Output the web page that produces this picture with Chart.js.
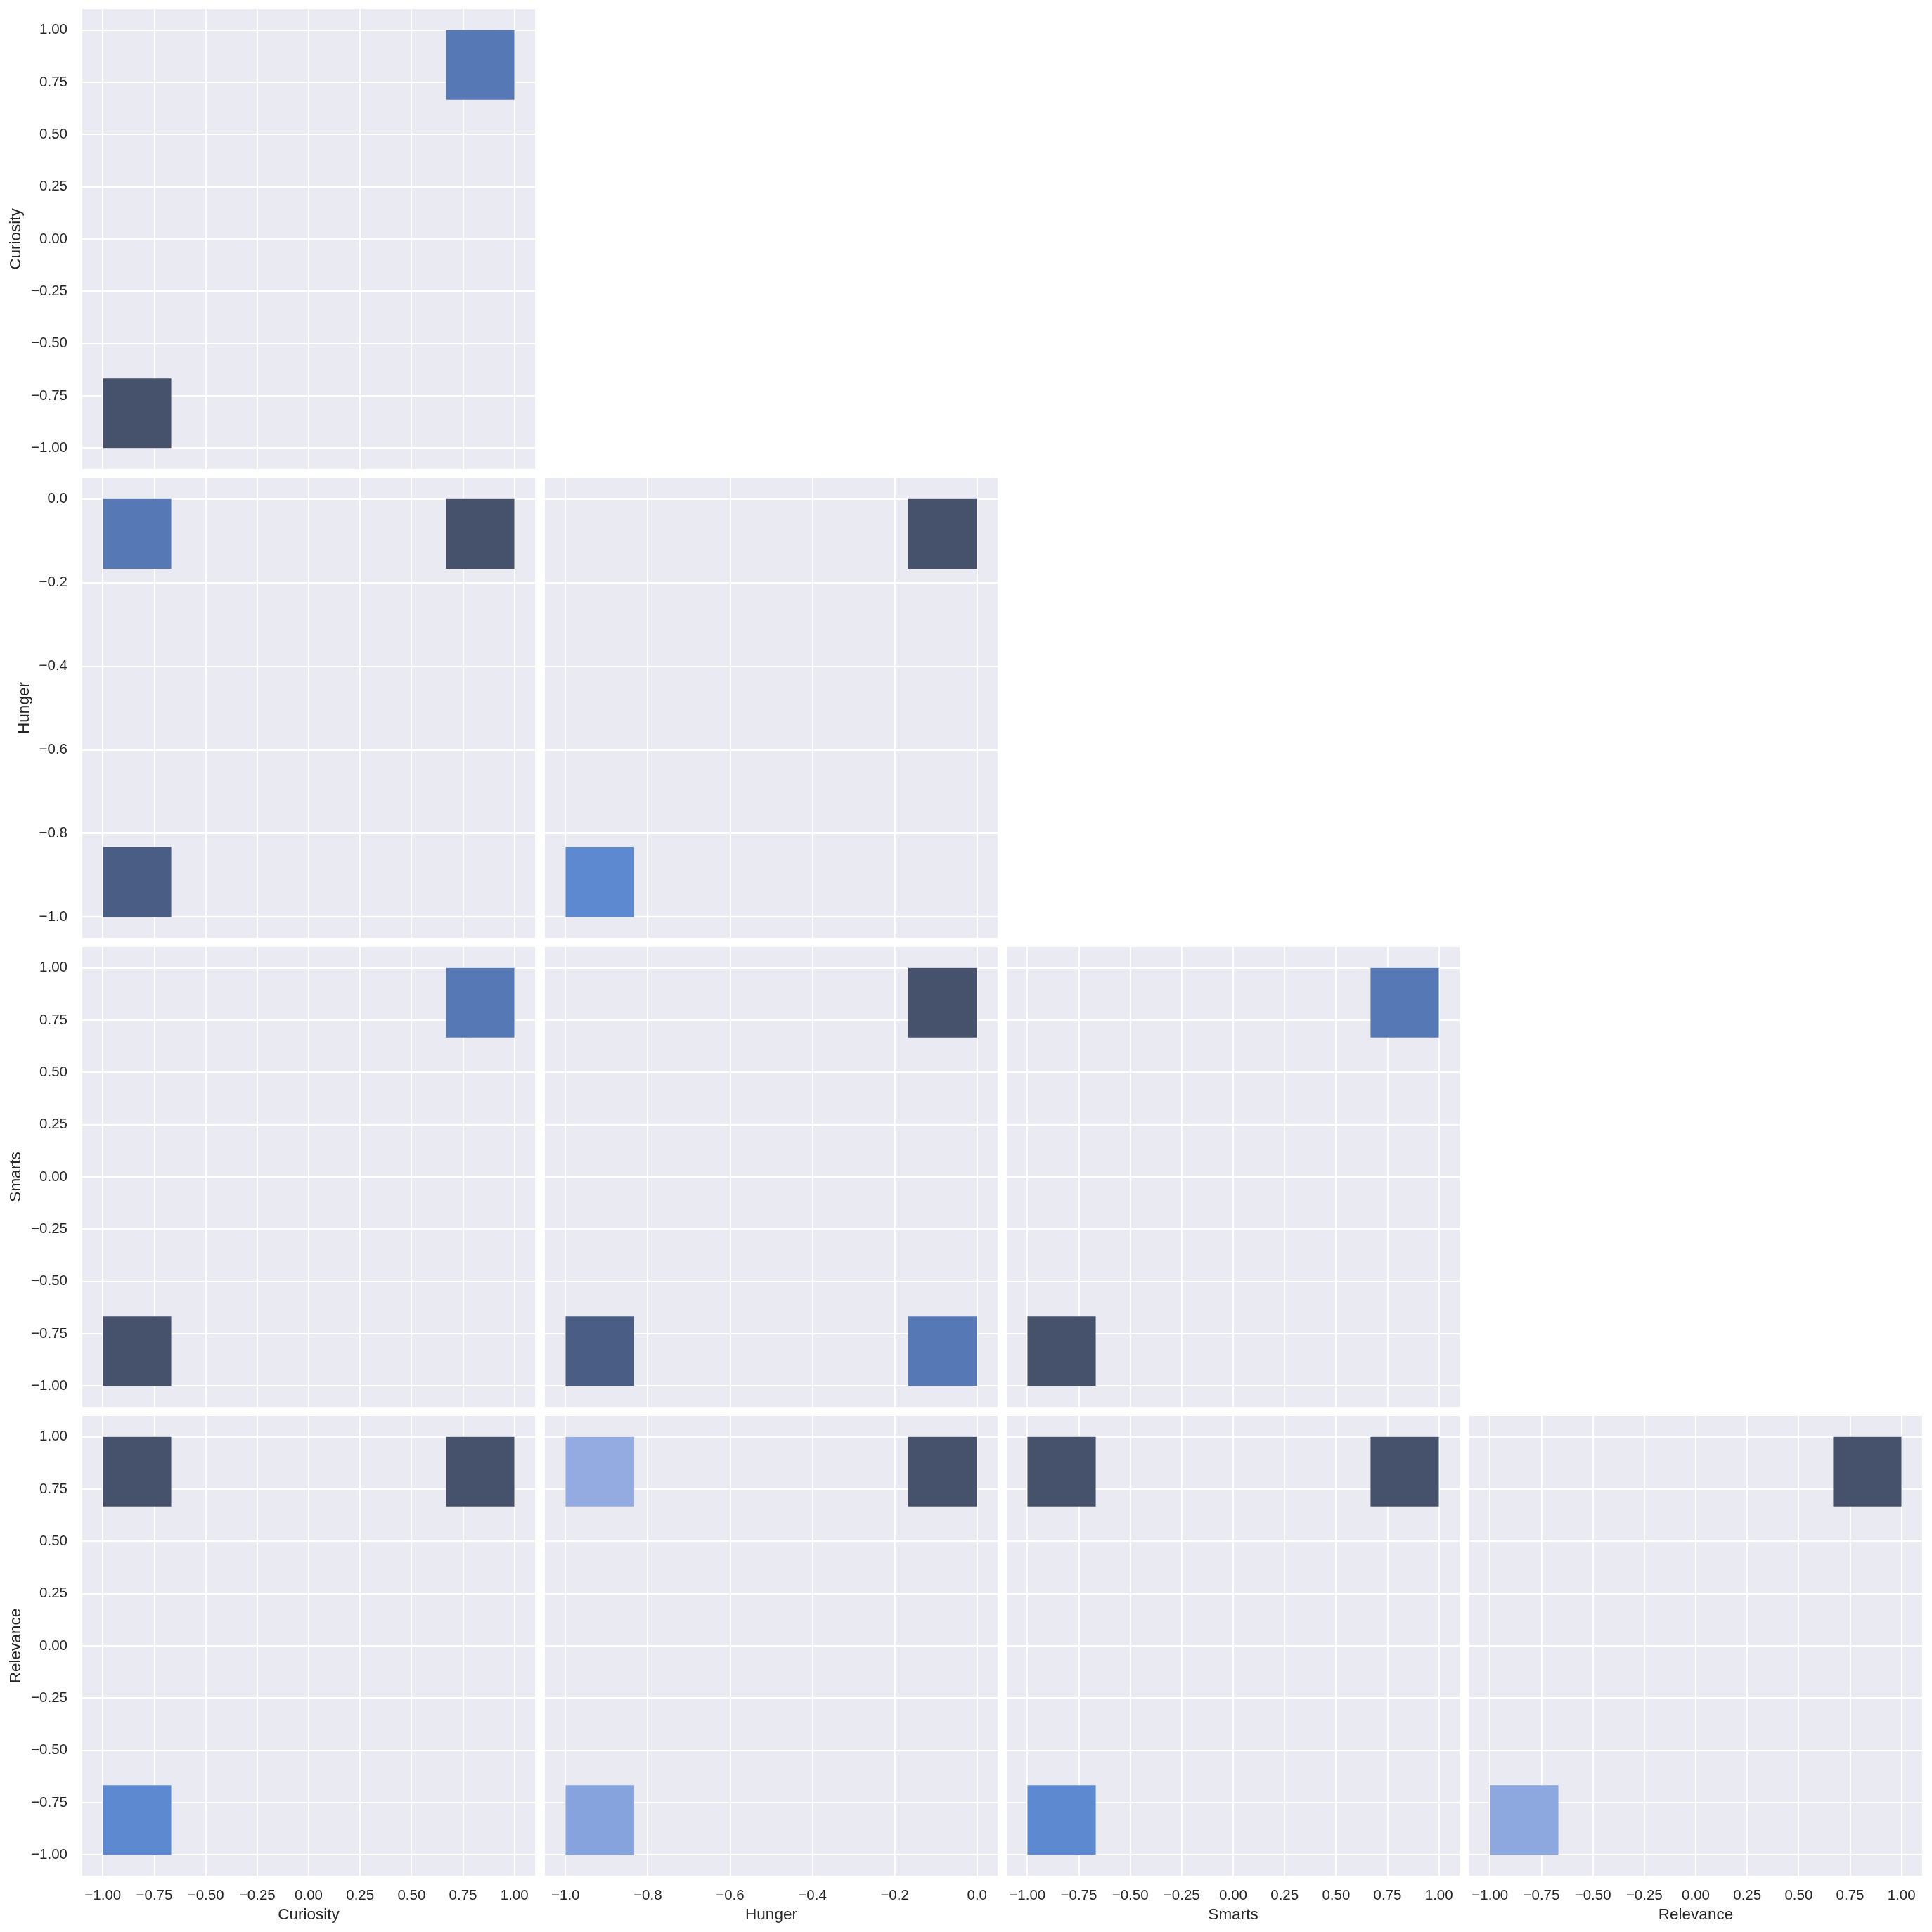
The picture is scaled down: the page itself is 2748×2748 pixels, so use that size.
<!DOCTYPE html>
<html><head><meta charset="utf-8">
<script src="https://cdn.jsdelivr.net/npm/chart.js@4.4.1/dist/chart.umd.min.js"></script>
<style>
html,body{margin:0;padding:0;background:#ffffff;width:2748px;height:2748px;overflow:hidden;position:relative}
canvas{position:absolute}
</style></head>
<body>
<script>
// ---------------- data ----------------
const variables = ['Curiosity', 'Hunger', 'Smarts', 'Relevance'];

const binEdgesCuriosity = [-1, -0.667, -0.333, 0, 0.333, 0.667, 1];
const binEdgesHunger = [-1, -0.833, -0.667, -0.5, -0.333, -0.167, 0];
const binEdgesSmarts = [-1, -0.667, -0.333, 0, 0.333, 0.667, 1];
const binEdgesRelevance = [-1, -0.667, -0.333, 0, 0.333, 0.667, 1];

const tickValuesUnit = [-1, -0.75, -0.5, -0.25, 0, 0.25, 0.5, 0.75, 1];
const tickLabelsUnit = ['\u22121.00', '\u22120.75', '\u22120.50', '\u22120.25', '0.00', '0.25', '0.50', '0.75', '1.00'];
const tickValuesHunger = [-1, -0.8, -0.6, -0.4, -0.2, 0];
const tickLabelsHunger = ['\u22121.0', '\u22120.8', '\u22120.6', '\u22120.4', '\u22120.2', '0.0'];

// cells: [x bin index, y bin index, density level]
const cellsCuriosityCuriosity = [[0, 0, 6], [5, 5, 4]];
const cellsHungerCuriosity = [[0, 5, 4], [5, 5, 6], [0, 0, 5]];
const cellsHungerHunger = [[5, 5, 6], [0, 0, 3]];
const cellsSmartsCuriosity = [[5, 5, 4], [0, 0, 6]];
const cellsSmartsHunger = [[5, 5, 6], [0, 0, 5], [5, 0, 4]];
const cellsSmartsSmarts = [[5, 5, 4], [0, 0, 6]];
const cellsRelevanceCuriosity = [[0, 5, 6], [5, 5, 6], [0, 0, 3]];
const cellsRelevanceHunger = [[0, 5, 1], [5, 5, 6], [0, 0, 2]];
const cellsRelevanceSmarts = [[0, 5, 6], [5, 5, 6], [0, 0, 3]];
const cellsRelevanceRelevance = [[5, 5, 6], [0, 0, 1.5]];

// ---------------- styling ----------------
const levelColors = {1: '#93abe0', 1.5: '#8da8df', 2: '#87a3dd', 3: '#5d89d0', 4: '#5679b6', 5: '#4a5e85', 6: '#46526c'};
const axisLimits = {Curiosity: [-1.1, 1.1], Hunger: [-1.05, 0.05], Smarts: [-1.1, 1.1], Relevance: [-1.1, 1.1]};
const binEdges = {Curiosity: binEdgesCuriosity, Hunger: binEdgesHunger, Smarts: binEdgesSmarts, Relevance: binEdgesRelevance};
const tickValues = {Curiosity: tickValuesUnit, Hunger: tickValuesHunger, Smarts: tickValuesUnit, Relevance: tickValuesUnit};
const tickLabels = {Curiosity: tickLabelsUnit, Hunger: tickLabelsHunger, Smarts: tickLabelsUnit, Relevance: tickLabelsUnit};
const panelCells = {
  'Curiosity|Curiosity': cellsCuriosityCuriosity,
  'Hunger|Curiosity': cellsHungerCuriosity,
  'Hunger|Hunger': cellsHungerHunger,
  'Smarts|Curiosity': cellsSmartsCuriosity,
  'Smarts|Hunger': cellsSmartsHunger,
  'Smarts|Smarts': cellsSmartsSmarts,
  'Relevance|Curiosity': cellsRelevanceCuriosity,
  'Relevance|Hunger': cellsRelevanceHunger,
  'Relevance|Smarts': cellsRelevanceSmarts,
  'Relevance|Relevance': cellsRelevanceRelevance
};

const colLefts = [117, 775, 1432, 2090];
const rowTops = [13, 680, 1347, 2014];
const PW = 644, PH = 654, PAD = 40;
const FONT = '"Liberation Sans", Arial, "DejaVu Sans", sans-serif';
const TEXT = '#262626';

const bgPlugin = {
  id: 'axbg',
  beforeDraw(chart) {
    const a = chart.chartArea, ctx = chart.ctx;
    ctx.save();
    ctx.fillStyle = '#EAEAF2';
    ctx.fillRect(a.left, a.top, a.right - a.left, a.bottom - a.top);
    ctx.restore();
  }
};

for (let r = 0; r < 4; r++) {
  for (let c = 0; c <= r; c++) {
    const xVar = variables[c], yVar = variables[r];
    const showY = c === 0, showX = r === 3;
    const yW = showY ? 117 : 0;
    const xH = showX ? 2748 - (rowTops[3] + PH) : 0;
    const padL = showY ? 0 : PAD;
    const padB = showX ? 0 : PAD;
    const cw = padL + yW + PW + PAD;
    const ch = PAD + PH + xH + padB;
    const cv = document.createElement('canvas');
    cv.width = cw; cv.height = ch;
    cv.style.left = (colLefts[c] - yW - padL) + 'px';
    cv.style.top = (rowTops[r] - PAD) + 'px';
    cv.style.width = cw + 'px'; cv.style.height = ch + 'px';
    document.body.appendChild(cv);

    const xe = binEdges[xVar], ye = binEdges[yVar];
    const datasets = panelCells[yVar + '|' + xVar].map(([xi, yi, lvl]) => ({
      data: [{x: xe[xi], y: ye[yi + 1]}, {x: xe[xi + 1], y: ye[yi + 1]}],
      fill: {value: ye[yi]},
      backgroundColor: levelColors[lvl],
      borderColor: 'rgba(0,0,0,0)',
      borderWidth: 0,
      pointRadius: 0,
      tension: 0
    }));

    const xTicks = tickValues[xVar], xLabels = tickLabels[xVar];
    const yTicks = tickValues[yVar], yLabels = tickLabels[yVar];

    new Chart(cv, {
      type: 'line',
      data: {datasets},
      plugins: [bgPlugin],
      options: {
        responsive: false,
        animation: false,
        devicePixelRatio: 1,
        layout: {padding: {left: padL, top: PAD, right: PAD, bottom: padB}},
        plugins: {legend: {display: false}, tooltip: {enabled: false}},
        scales: {
          x: {
            type: 'linear',
            min: axisLimits[xVar][0], max: axisLimits[xVar][1],
            afterBuildTicks: s => { s.ticks = xTicks.map(v => ({value: v})); },
            afterFit: s => { s.height = xH; },
            grid: {color: '#ffffff', lineWidth: 1.9, drawTicks: false},
            border: {display: false},
            ticks: {
              display: showX, autoSkip: false, maxRotation: 0, minRotation: 0,
              padding: 16, color: TEXT, font: {family: FONT, size: 20.5},
              callback: (v, i) => xLabels[i]
            },
            title: {display: showX, text: xVar, color: TEXT, font: {family: FONT, size: 22.5}, padding: {top: 0, bottom: 11}}
          },
          y: {
            type: 'linear',
            min: axisLimits[yVar][0], max: axisLimits[yVar][1],
            afterBuildTicks: s => { s.ticks = yTicks.map(v => ({value: v})); },
            afterFit: s => { s.width = yW; },
            grid: {color: '#ffffff', lineWidth: 1.9, drawTicks: false},
            border: {display: false},
            ticks: {
              display: showY, autoSkip: false, padding: 21, color: TEXT,
              font: {family: FONT, size: 20.5},
              callback: (v, i) => yLabels[i]
            },
            title: {display: showY, text: yVar, color: TEXT, font: {family: FONT, size: 22.5},
                    padding: {top: yVar === 'Hunger' ? 21.5 : 9.5, bottom: 0}}
          }
        }
      }
    });
  }
}
</script>
</body></html>
